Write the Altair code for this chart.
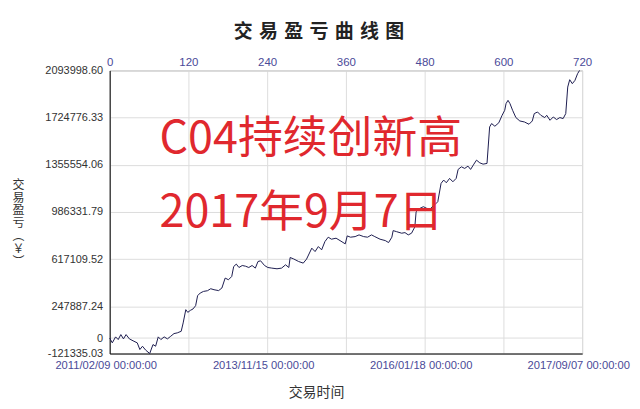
import altair as alt
import pandas as pd

# ---- data ----
TRADE_IDX = [0, 4, 9, 13, 17, 21, 25, 30, 37, 42, 46, 50, 55, 61, 66, 70, 74, 78, 83, 88,
             93, 98, 103, 109, 112, 116, 119, 123, 127, 131, 134, 138, 143, 149, 154, 159, 166, 171, 176, 181,
             186, 189, 193, 197, 202, 207, 212, 217, 222, 226, 230, 236, 241, 247, 255, 262, 268, 273, 275, 280,
             288, 295, 300, 308, 313, 318, 323, 328, 333, 338, 345, 351, 359, 362, 367, 374, 380, 387, 393, 399,
             404, 412, 420, 425, 430, 432, 437, 445, 450, 455, 460, 465, 467, 473, 478, 483, 488, 495, 500, 505,
             509, 513, 518, 523, 528, 531, 536, 541, 546, 550, 555, 559, 564, 569, 575, 579, 582, 587, 593, 598,
             602, 604, 607, 610, 614, 619, 625, 632, 639, 644, 647, 652, 657, 663, 666, 671, 676, 681, 686, 691,
             695, 698, 701, 705, 709, 713, 716]
EQUITY = [0, -37870, 8933, -12128, 26875, -6668, 26875, -6668, -25389, -37870,
          -90133, -64391, -95593, -121335.03, -51130, -64391, 8933, -12128, 8933, -6668,
          13614, 34675, 40135, 52616, 118140, 221887, 200826, 216427, 227347, 253089,
          331094, 352155, 364636, 370097, 385698, 377897, 371000, 391158, 469163, 455902,
          481644, 559649, 578370, 551848, 567449, 562000, 551848, 567449, 547168, 598651,
          604112, 567449, 551848, 547168, 541708, 547168, 572910, 551848, 629853, 619713,
          598651, 586170, 617372, 703178, 676656, 715659, 689917, 754665, 788983, 773382,
          781183, 762462, 736720, 799124, 788983, 793664, 806925, 793664, 788983, 806925,
          793664, 773382, 762462, 746861, 788983, 840467, 832666, 820185, 824866, 806925,
          820185, 869329, 988676, 1015198, 1027679, 1015198, 1009738, 1040940, 1066681, 1210210,
          1235952, 1214891, 1249213, 1222691, 1249213, 1319417, 1339699, 1327218, 1345159, 1319417,
          1360760, 1391962, 1370901, 1360760, 1366220, 1651719, 1678240, 1657179, 1684481, 1742985,
          1781987, 1834250, 1859992, 1834250, 1781987, 1725043, 1698522, 1690721, 1672780, 1698522,
          1756245, 1768726, 1742985, 1725043, 1742985, 1703982, 1729723, 1709442, 1725043, 1717243,
          1756245, 1963739, 2021462, 1990260, 2016002, 2068265, 2093998.60]

TOP_TICKS = [0, 120, 240, 360, 480, 600, 720]
DATE_TICKS = [0, 240, 480, 720]
DATE_LABELS = ["2011/02/09 00:00:00", "2013/11/15 00:00:00",
               "2016/01/18 00:00:00", "2017/09/07 00:00:00"]
Y_TICKS = [-121335.03, 0, 247887.24, 617109.52, 986331.79,
           1355554.06, 1724776.33, 2093998.60]
Y_LABELS = ["-121335.03", "0", "247887.24", "617109.52", "986331.79",
            "1355554.06", "1724776.33", "2093998.60"]
TITLE = "交易盈亏曲线图"
X_TITLE = "交易时间"
Y_TITLE_CHARS = ["交", "易", "盈", "亏", "︵", "￥", "︶"]
ANNOTATION = ["C04持续创新高", "2017年9月7日"]

df = pd.DataFrame({"idx": TRADE_IDX, "equity": EQUITY})

CJK = "Noto Sans CJK SC"
LAT = "Liberation Sans"

date_expr = "".join(f"datum.value == {v} ? '{l}' : " for v, l in zip(DATE_TICKS, DATE_LABELS)) + "''"
y_expr = "".join(f"abs(datum.value - ({v})) < 1 ? '{l}' : " for v, l in zip(Y_TICKS, Y_LABELS)) + "''"

xs = alt.Scale(domain=[0, 720], nice=False, zero=False)
ys = alt.Scale(domain=[Y_TICKS[0], Y_TICKS[-1]], nice=False, zero=False)

y_axis = alt.Axis(values=Y_TICKS, labelExpr=y_expr, grid=True, gridColor="#dddddd",
                  ticks=False, labelPadding=7, labelFont=LAT, labelFontSize=11,
                  labelColor="#333333", domainColor="#000000", labelOverlap=False,
                  title=Y_TITLE_CHARS, titleAngle=0, titleFont=CJK, titleFontSize=12,
                  titleFontWeight="normal", titleColor="#333333", titleLineHeight=13,
                  titleX=-92, titleY=109, titleBaseline="top", titleAlign="center")

bottom_axis = alt.Axis(orient="bottom", values=DATE_TICKS, labelExpr=date_expr, grid=False,
                       ticks=False, labelPadding=6, labelFont=LAT, labelFontSize=11.2,
                       labelColor="#4a4a98", labelFlush=False, labelOverlap=False,
                       labelOffset=-4,
                       domainColor="#000000", title=X_TITLE, titleFont=CJK, titleFontSize=14,
                       titleFontWeight="normal", titleColor="#333333",
                       titleX=207, titleY=39, titleBaseline="middle", titleAlign="center")

top_axis = alt.Axis(orient="top", values=TOP_TICKS, grid=True, gridColor="#dddddd",
                    ticks=False, labelPadding=3, labelFont=LAT, labelFontSize=11.5,
                    labelColor="#4a4a98", labelFlush=False, labelOverlap=False,
                    domainColor="#d0d0d0", title="")

line = alt.Chart(df).mark_line(color="#1e1e50", strokeWidth=1).encode(
    x=alt.X("idx:Q", scale=xs, axis=bottom_axis),
    y=alt.Y("equity:Q", scale=ys, axis=y_axis),
)
line_top = alt.Chart(df).mark_line(strokeOpacity=0).encode(
    x=alt.X("idx:Q", scale=xs, axis=top_axis),
    y=alt.Y("equity:Q", scale=ys, axis=y_axis),
)

ann_df = pd.DataFrame({"t": ANNOTATION})
red1 = alt.Chart(ann_df).transform_filter(alt.datum.t == ANNOTATION[0]).mark_text(
    x=50, y=69, align="left", baseline="middle", font=CJK, fontSize=45, color="#e0282e"
).encode(text="t:N")
red2 = alt.Chart(ann_df).transform_filter(alt.datum.t == ANNOTATION[1]).mark_text(
    x=50, y=143, align="left", baseline="middle", font=CJK, fontSize=45, color="#e0282e"
).encode(text="t:N")

chart = alt.layer(line_top, line, red1, red2).resolve_axis(x="independent").properties(
    width=474, height=284,
    autosize=alt.AutoSizeParams(type="none"),
    padding={"left": 102, "top": 62, "right": 50, "bottom": 47},
    title=alt.TitleParams("\u2004".join(TITLE), font=CJK, fontSize=19, fontWeight="bold",
                          color="#222222", dx=-27, offset=15),
).configure_view(stroke="#d0d0d0")

chart.save("out.html", embed_options={"renderer": "svg", "actions": False})
